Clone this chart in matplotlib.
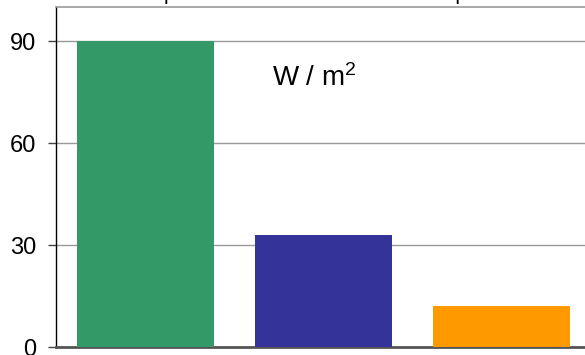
import matplotlib
matplotlib.use("Agg")
import matplotlib.pyplot as plt

categories = ["A", "B", "C"]
values = [90, 33, 12]
colors = ["#339966", "#333399", "#FF9900"]
yticks = [0, 30, 60, 90]
title = "Solar input at the surface and heat output"
unit_label = r"W / m$^{2}$"

plt.rcParams['font.family'] = ['Liberation Sans', 'DejaVu Sans']
plt.rcParams['mathtext.fontset'] = 'custom'
plt.rcParams['mathtext.rm'] = 'Liberation Sans'
plt.rcParams['mathtext.it'] = 'Liberation Sans'
plt.rcParams['mathtext.default'] = 'rm'

W, H = 585, 355
fig = plt.figure(figsize=(W / 100, H / 100), dpi=100)
ax = fig.add_axes([56 / W, 8 / H, (591 - 56) / W, (347 - 7) / H])

x = list(range(len(categories)))
ax.bar(x, values, width=0.77, color=colors, zorder=3)

ax.set_xlim(-0.5, 2.5)
ax.set_ylim(0, 100)
ax.set_yticks(yticks)
ax.set_yticklabels([str(t) for t in yticks])
ax.set_xticks([])

ax.yaxis.grid(True, color="#999999", linewidth=1, zorder=0)
ax.set_axisbelow(True)

ax.spines['top'].set_color("#999999")
ax.spines['top'].set_linewidth(1.2)
ax.spines['right'].set_visible(False)
ax.spines['left'].set_color("black")
ax.spines['left'].set_linewidth(1)
ax.spines['bottom'].set_color("#555555")
ax.spines['bottom'].set_linewidth(2)

ax.tick_params(axis='y', length=6, width=1, color="#444444", pad=8,
               labelsize=17, labelcolor="black")

fig.text(272 / W, (355 - 86) / H, unit_label, fontsize=20, ha='left',
         va='baseline', color="black")

fig.text(91.4 / W, (H + 0.5) / H, title, fontsize=15.5, ha='left',
         va='baseline', color="black")

fig.savefig("out.png", dpi=100)
